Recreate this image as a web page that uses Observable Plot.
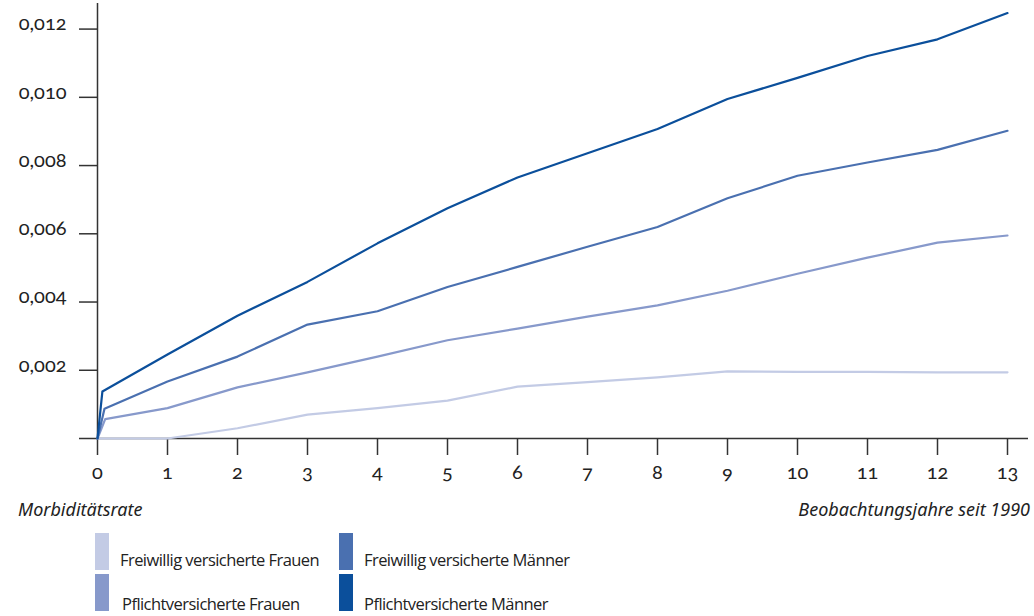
<!DOCTYPE html>
<html>
<head>
<meta charset="utf-8">
<script src="https://cdn.jsdelivr.net/npm/d3@7"></script>
<script src="https://cdn.jsdelivr.net/npm/@observablehq/plot@0.6"></script>
<style>
  body { margin: 0; background: #fff; }
  #wrap { position: relative; width: 1034px; height: 616px; font-family: "Noto Sans", Lato, sans-serif; color: #222; }
  #wrap svg { position: absolute; left: 0; top: 0; }
  #wrap svg text { font-family: Lato, "Noto Sans", sans-serif; font-variant: oldstyle-nums; font-variant-numeric: oldstyle-nums; font-feature-settings: "onum"; }
  .ax { position: absolute; top: 497px; font-style: italic; font-size: 18px; font-family: "Noto Sans", sans-serif; color: #222; }
  .lg { position: absolute; font-size: 16.5px; letter-spacing: -0.55px; font-family: "Open Sans", "Noto Sans", sans-serif; color: #222; white-space: nowrap; }
  .sw { position: absolute; width: 14px; height: 37px; }
</style>
</head>
<body>
<div id="wrap"></div>
<script>
// ---- data ----
const years = [1, 2, 3, 4, 5, 6, 7, 8, 9, 10, 11, 12, 13];
const seriesNames = [
  "Freiwillig versicherte Frauen",
  "Pflichtversicherte Frauen",
  "Freiwillig versicherte Männer",
  "Pflichtversicherte Männer"
];
const seriesColors = ["#c3cbe5", "#8799cb", "#4a70b0", "#0b4f9b"];
// first (entry) observation point, just after year 0
const entryX = [0.1, 0.11, 0.1, 0.07];
// values: [year 0, entry point, years 1..13]
const freiwilligFrauen = [0, 0, 0, 0.0003, 0.0007, 0.00089, 0.00111, 0.00152, 0.00165, 0.00179, 0.00197, 0.00195, 0.00195, 0.00194, 0.00194];
const pflichtFrauen    = [0, 0.00057, 0.00089, 0.0015, 0.00194, 0.0024, 0.00288, 0.00322, 0.00357, 0.0039, 0.00433, 0.00483, 0.0053, 0.00574, 0.00595];
const freiwilligMaenner= [0, 0.00087, 0.00167, 0.0024, 0.00334, 0.00373, 0.00444, 0.00503, 0.00562, 0.0062, 0.00704, 0.0077, 0.00809, 0.00846, 0.00902];
const pflichtMaenner   = [0, 0.00138, 0.00246, 0.0036, 0.00459, 0.00572, 0.00675, 0.00765, 0.00836, 0.00907, 0.00995, 0.01057, 0.01121, 0.0117, 0.01247];
const yTicks = [0.002, 0.004, 0.006, 0.008, 0.010, 0.012];
const xTicks = [0, 1, 2, 3, 4, 5, 6, 7, 8, 9, 10, 11, 12, 13];
const yLabel = "Morbiditätsrate";
const xLabel = "Beobachtungsjahre seit 1990";

// ---- build table ----
const allValues = [freiwilligFrauen, pflichtFrauen, freiwilligMaenner, pflichtMaenner];
const rows = [];
allValues.forEach((vals, si) => {
  const xs = [0, entryX[si], ...years];
  vals.forEach((v, i) => rows.push({series: seriesNames[si], x: xs[i], y: v}));
});

const axisColor = "#333";
const fmtY = d => d.toFixed(3).replace(".", ",");
const chart = Plot.plot({
  width: 1034,
  height: 490,
  marginLeft: 97,
  marginRight: 27,
  marginTop: 3,
  marginBottom: 52,
  x: {domain: [0, 13]},
  y: {domain: [0, 0.01275]},
  color: {domain: seriesNames, range: seriesColors},
  style: {fontFamily: "Lato, 'Noto Sans', sans-serif", color: axisColor, background: "transparent"},
  marks: [
    Plot.axisY({ticks: yTicks, tickSize: 18, tickFormat: () => "", label: null, stroke: axisColor, strokeWidth: 1.5}),
    Plot.axisY({ticks: yTicks, tickSize: 0, tickPadding: 31, tickFormat: fmtY, fontSize: 20, dy: -5, label: null, fill: "#222"}),
    Plot.axisX({ticks: xTicks, tickSize: 17, tickPadding: 9, tickFormat: d => String(d),
      fontSize: 20, label: null, stroke: axisColor, strokeWidth: 1.5, fill: "#222"}),
    Plot.ruleX([0], {stroke: axisColor, strokeWidth: 1.5}),
    Plot.ruleY([0], {stroke: axisColor, strokeWidth: 1.5, insetLeft: -18, insetRight: -21}),
    Plot.line(rows, {x: "x", y: "y", z: "series", stroke: "series", strokeWidth: 2.2, strokeLinejoin: "round"})
  ]
});

// old-style figures for the tick labels
chart.querySelectorAll("[font-variant]").forEach(el => el.removeAttribute("font-variant"));

const wrap = document.getElementById("wrap");
wrap.appendChild(chart);

const l1 = document.createElement("div");
l1.className = "ax"; l1.style.left = "18px"; l1.textContent = yLabel;
wrap.appendChild(l1);
const l2 = document.createElement("div");
l2.className = "ax"; l2.style.right = "4px"; l2.textContent = xLabel;
wrap.appendChild(l2);

// legend (col 1 = Frauen, col 2 = Männer)
const legendPos = [
  {sx: 95, sy: 533, tx: 120, ty: 548},
  {sx: 95, sy: 574, tx: 122, ty: 592},
  {sx: 339, sy: 533, tx: 364, ty: 548},
  {sx: 339, sy: 574, tx: 364, ty: 592}
];
seriesNames.forEach((name, i) => {
  const p = legendPos[i];
  const sw = document.createElement("div");
  sw.className = "sw"; sw.style.left = p.sx + "px"; sw.style.top = p.sy + "px";
  sw.style.background = seriesColors[i];
  wrap.appendChild(sw);
  const t = document.createElement("div");
  t.className = "lg"; t.style.left = p.tx + "px"; t.style.top = p.ty + "px";
  t.textContent = name;
  wrap.appendChild(t);
});
</script>
</body>
</html>
